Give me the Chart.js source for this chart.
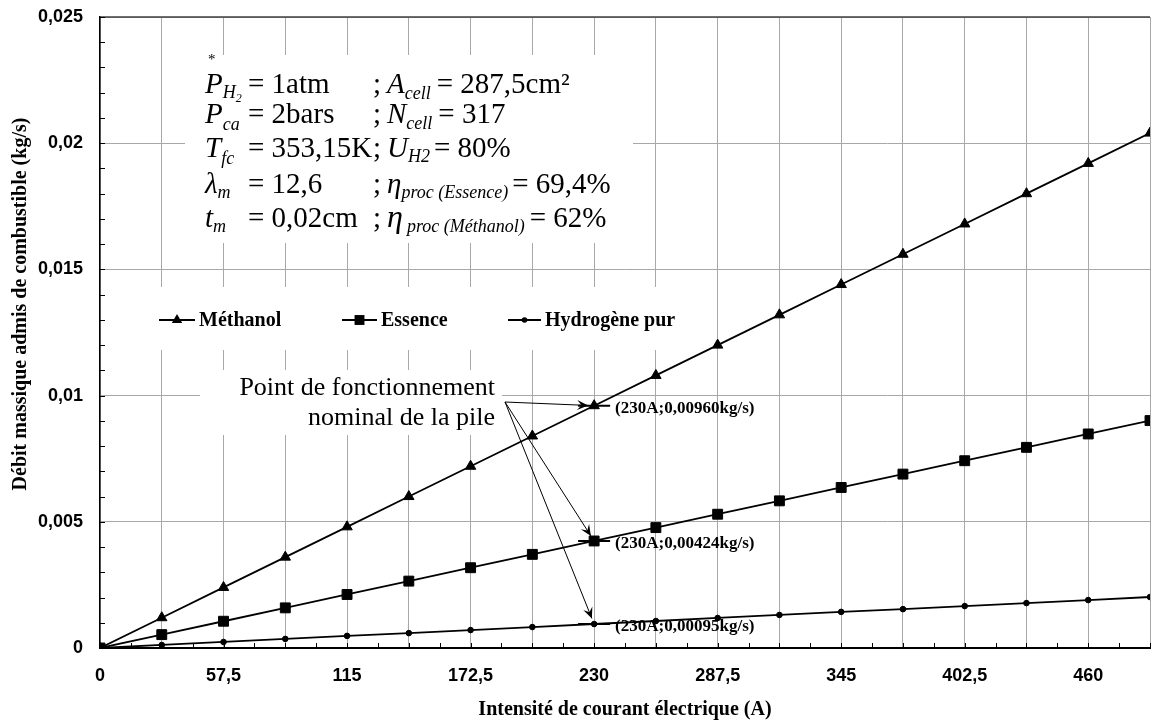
<!DOCTYPE html>
<html>
<head>
<meta charset="utf-8">
<script src="https://cdn.jsdelivr.net/npm/chart.js@4.4.0/dist/chart.umd.min.js"></script>
<style>
html, body { margin: 0; padding: 0; background: #fff; }
#wrap { width: 1151px; height: 722px; }
</style>
</head>
<body>
<div id="wrap"><canvas id="chart" width="1151" height="722"></canvas></div>
<script>
// ---- data -------------------------------------------------------------------------------
var courant = [0, 28.75, 57.5, 86.25, 115, 143.75, 172.5, 201.25, 230, 258.75, 287.5, 316.25, 345, 373.75, 402.5, 431.25, 460, 488.75];
var methanol = [0, 0.0012, 0.0024, 0.0036, 0.0048, 0.0060, 0.0072, 0.0084, 0.0096, 0.0108, 0.0120, 0.0132, 0.0144, 0.0156, 0.0168, 0.0180, 0.0192, 0.0204];
var essence = [0, 0.00053, 0.00106, 0.00159, 0.00212, 0.00265, 0.00318, 0.00371, 0.00424, 0.00477, 0.00530, 0.00583, 0.00636, 0.00689, 0.00742, 0.00795, 0.00848, 0.00901];
var hydrogene = [0, 0.00012, 0.00024, 0.00036, 0.00048, 0.00059, 0.00071, 0.00083, 0.00095, 0.00107, 0.00119, 0.00131, 0.00143, 0.00154, 0.00166, 0.00178, 0.00190, 0.00202];
var seriesNames = ['Méthanol', 'Essence', 'Hydrogène pur'];
var xTickLabels = ['0', '57,5', '115', '172,5', '230', '287,5', '345', '402,5', '460'];
var yTickLabels = ['0', '0,005', '0,01', '0,015', '0,02', '0,025'];
var pointNominal = 230;
var nominalLabels = ['(230A;0,00960kg/s)', '(230A;0,00424kg/s)', '(230A;0,00095kg/s)'];

var SERIF = '"Liberation Serif", "Times New Roman", serif';
var SANS = '"Liberation Sans", Arial, sans-serif';

function isMultiple(v, step) {
    var k = v / step;
    return Math.abs(k - Math.round(k)) < 1e-6;
}

function pts(ys) {
    return courant.map(function (x, i) { return { x: x, y: ys[i] }; });
}

// draws a sequence of text pieces, each may set its own font, x and vertical shift
function runs(ctx, x, y, parts) {
    parts.forEach(function (p) {
        ctx.font = p.f;
        if (p.x != null) x = p.x;
        ctx.fillText(p.t, x, y + (p.dy || 0));
        x += ctx.measureText(p.t).width + (p.gap || 0);
    });
}

function marker(ctx, style, x, y, r) {
    ctx.beginPath();
    if (style === 'triangle') {
        ctx.moveTo(x, y - r);
        ctx.lineTo(x + r * 0.866, y + r * 0.5);
        ctx.lineTo(x - r * 0.866, y + r * 0.5);
        ctx.closePath();
    } else if (style === 'rect') {
        ctx.rect(x - r * 0.707, y - r * 0.707, r * 1.414, r * 1.414);
    } else {
        ctx.arc(x, y, r, 0, Math.PI * 2);
    }
    ctx.fill();
}

function arrow(ctx, x0, y0, x1, y1) {
    var a = Math.atan2(y1 - y0, x1 - x0);
    ctx.beginPath();
    ctx.moveTo(x0, y0);
    ctx.lineTo(x1, y1);
    ctx.stroke();
    var L = 12, w = 0.42;
    ctx.beginPath();
    ctx.moveTo(x1, y1);
    ctx.lineTo(x1 - L * Math.cos(a - w), y1 - L * Math.sin(a - w));
    ctx.lineTo(x1 - L * 0.55 * Math.cos(a), y1 - L * 0.55 * Math.sin(a));
    ctx.lineTo(x1 - L * Math.cos(a + w), y1 - L * Math.sin(a + w));
    ctx.closePath();
    ctx.fill();
}

// ---- decorations (boxes, legend, notes) ------------------------------------------------
var decor = {
    id: 'decor',
    beforeDatasetsDraw: function (chart) {
        var ctx = chart.ctx, ca = chart.chartArea;
        var xs = chart.scales.x, ys = chart.scales.y;
        ctx.save();

        // top frame line
        ctx.strokeStyle = '#404040';
        ctx.lineWidth = 1.5;
        ctx.beginPath();
        ctx.moveTo(ca.left, ca.top);
        ctx.lineTo(ca.right, ca.top);
        ctx.stroke();

        // inner tick marks
        ctx.strokeStyle = '#000';
        ctx.lineWidth = 1;
        xs.ticks.forEach(function (t) {
            var px = Math.round(xs.getPixelForValue(t.value)) + 0.5;
            ctx.beginPath();
            ctx.moveTo(px, ca.bottom);
            ctx.lineTo(px, ca.bottom - 5);
            ctx.stroke();
        });
        ys.ticks.forEach(function (t) {
            var py = Math.round(ys.getPixelForValue(t.value)) + 0.5;
            ctx.beginPath();
            ctx.moveTo(ca.left, py);
            ctx.lineTo(ca.left + 5, py);
            ctx.stroke();
        });

        // white boxes over the grid
        ctx.fillStyle = '#fff';
        ctx.fillRect(185, 55, 448, 188);
        ctx.fillRect(150, 287, 550, 63);
        ctx.fillRect(200, 370, 302, 65);

        // parameter box
        ctx.fillStyle = '#000';
        ctx.textBaseline = 'alphabetic';
        ctx.textAlign = 'left';
        var I = 'italic 29px ' + SERIF, R = '29px ' + SERIF, S = 'italic 18px ' + SERIF,
            S2 = 'italic 12px ' + SERIF;
        ctx.font = '15px ' + SERIF;
        ctx.fillText('*', 208, 64);
        runs(ctx, 205, 93, [{ t: 'P', f: I }, { t: 'H', f: S, dy: 5 }, { t: '2', f: S2, dy: 9 },
            { t: '= 1atm', f: R, x: 248 }, { t: ';', f: R, x: 373 }, { t: 'A', f: I, x: 387 },
            { t: 'cell', f: S, dy: 6, gap: 6 }, { t: '= 287,5cm²', f: R }]);
        runs(ctx, 205, 123, [{ t: 'P', f: I }, { t: 'ca', f: S, dy: 7 },
            { t: '= 2bars', f: R, x: 248 }, { t: ';', f: R, x: 373 }, { t: 'N', f: I, x: 387 },
            { t: 'cell', f: S, dy: 6, gap: 6 }, { t: '= 317', f: R }]);
        runs(ctx, 205, 157, [{ t: 'T', f: I }, { t: 'fc', f: S, dy: 7 },
            { t: '= 353,15K', f: R, x: 248 }, { t: ';', f: R, x: 373 }, { t: 'U', f: I, x: 387 },
            { t: 'H2', f: S, dy: 5, gap: 4 }, { t: '= 80%', f: R }]);
        runs(ctx, 205, 193, [{ t: 'λ', f: I }, { t: 'm', f: S, dy: 5 },
            { t: '= 12,6', f: R, x: 248 }, { t: ';', f: R, x: 373 }, { t: 'η', f: I, x: 387 },
            { t: 'proc (Essence)', f: S, dy: 5, gap: 4 }, { t: '= 69,4%', f: R }]);
        runs(ctx, 205, 227, [{ t: 't', f: I }, { t: 'm', f: S, dy: 5 },
            { t: '= 0,02cm', f: R, x: 248 }, { t: ';', f: R, x: 373 }, { t: 'η', f: 'italic 32px ' + SERIF, x: 387, gap: 4 },
            { t: 'proc (Méthanol)', f: S, dy: 5, gap: 5 }, { t: '= 62%', f: R }]);

        // legend
        var leg = [
            { style: 'triangle', r: 6, x1: 159, x2: 195, tx: 199 },
            { style: 'rect', r: 7, x1: 342, x2: 377, tx: 381 },
            { style: 'circle', r: 2.8, x1: 508, x2: 541, tx: 545 }
        ];
        var ly = 320;
        ctx.strokeStyle = '#000';
        ctx.lineWidth = 1.8;
        ctx.font = 'bold 20px ' + SERIF;
        ctx.textBaseline = 'middle';
        leg.forEach(function (l, i) {
            ctx.beginPath();
            ctx.moveTo(l.x1, ly);
            ctx.lineTo(l.x2, ly);
            ctx.stroke();
            marker(ctx, l.style, (l.x1 + l.x2) / 2, ly, l.r);
            ctx.fillText(seriesNames[i], l.tx, ly + 1);
        });

        // annotation text
        ctx.font = '26px ' + SERIF;
        ctx.textAlign = 'right';
        ctx.textBaseline = 'alphabetic';
        ctx.fillText('Point de fonctionnement', 495, 395);
        ctx.fillText('nominal de la pile', 495, 425);

        // y axis title
        ctx.save();
        ctx.translate(21, 304);
        ctx.rotate(-Math.PI / 2);
        ctx.textAlign = 'center';
        ctx.textBaseline = 'middle';
        ctx.font = 'bold 20px ' + SERIF;
        ctx.fillText('Débit massique admis de combustible (kg/s)', 0, 0);
        ctx.restore();

        ctx.restore();
    },
    afterDatasetsDraw: function (chart) {
        var ctx = chart.ctx;
        var xs = chart.scales.x, ys = chart.scales.y;
        var idx = courant.indexOf(pointNominal);
        var px = xs.getPixelForValue(pointNominal);
        var vals = [methanol[idx], essence[idx], hydrogene[idx]];
        ctx.save();
        ctx.fillStyle = '#000';
        ctx.strokeStyle = '#000';
        vals.forEach(function (v, i) {
            var py = ys.getPixelForValue(v);
            // dash through the point
            ctx.lineWidth = 2;
            ctx.beginPath();
            ctx.moveTo(px - 16, py);
            ctx.lineTo(px + 16, py);
            ctx.stroke();
            // value label
            ctx.font = 'bold 17px ' + SERIF;
            ctx.textAlign = 'left';
            ctx.textBaseline = 'middle';
            ctx.fillText(nominalLabels[i], px + 21, py + 3);
            // arrow from note
            var sx = 505, sy = 402;
            var dx = px - sx, dy = py - sy, d = Math.sqrt(dx * dx + dy * dy);
            ctx.lineWidth = 1;
            arrow(ctx, sx, sy, px - dx / d * 6, py - dy / d * 6);
        });
        ctx.restore();
    }
};

// ---- chart ------------------------------------------------------------------------------
var ctx = document.getElementById('chart').getContext('2d');

function gridColor(step) {
    return function (c) {
        var v = c.tick ? c.tick.value : 0;
        return isMultiple(v, step) ? '#a8a8a8' : 'rgba(0,0,0,0)';
    };
}

var common = {
    borderColor: '#000',
    borderWidth: 1.8,
    pointBackgroundColor: '#000',
    pointBorderColor: '#000',
    pointBorderWidth: 1,
    tension: 0,
    fill: false
};

new Chart(ctx, {
    type: 'line',
    data: {
        datasets: [
            Object.assign({ label: seriesNames[0], data: pts(methanol), pointStyle: 'triangle', pointRadius: 6, order: 1 }, common),
            Object.assign({ label: seriesNames[1], data: pts(essence), pointStyle: 'rect', pointRadius: 7, order: 0 }, common),
            Object.assign({ label: seriesNames[2], data: pts(hydrogene), pointStyle: 'circle', pointRadius: 2.8, order: 2 }, common)
        ]
    },
    options: {
        responsive: false,
        animation: false,
        layout: { autoPadding: false, padding: { left: 0, right: 1, top: 17, bottom: 0 } },
        plugins: {
            legend: { display: false },
            tooltip: { enabled: false }
        },
        scales: {
            x: {
                type: 'linear',
                min: 0,
                max: 488.75,
                afterFit: function (s) {
                    s.height = 74;
                    s.paddingLeft = 0;
                    s.paddingRight = 0;
                },
                ticks: {
                    stepSize: 14.375,
                    autoSkip: false,
                    maxRotation: 0,
                    padding: 17,
                    color: '#000',
                    font: { family: SANS, size: 18, weight: 'bold' },
                    callback: function (v) {
                        return isMultiple(v, 57.5) ? xTickLabels[Math.round(v / 57.5)] || '' : '';
                    }
                },
                grid: { drawTicks: false, color: gridColor(28.75), lineWidth: 1 },
                border: { color: '#000', width: 2 },
                title: {
                    display: true,
                    text: 'Intensité de courant électrique (A)',
                    color: '#000',
                    font: { family: SERIF, size: 20, weight: 'bold' },
                    padding: { top: 0, bottom: 0 }
                }
            },
            y: {
                min: 0,
                max: 0.025,
                afterFit: function (s) {
                    s.width = 100;
                    s.paddingTop = 0;
                    s.paddingBottom = 0;
                },
                ticks: {
                    stepSize: 0.001,
                    autoSkip: false,
                    padding: 17,
                    color: '#000',
                    font: { family: SANS, size: 18, weight: 'bold' },
                    callback: function (v) {
                        return isMultiple(v, 0.005) ? yTickLabels[Math.round(v / 0.005)] || '' : '';
                    }
                },
                grid: { drawTicks: false, color: gridColor(0.005), lineWidth: 1 },
                border: { color: '#000', width: 1.5 }
            }
        }
    },
    plugins: [decor]
});
</script>
</body>
</html>
